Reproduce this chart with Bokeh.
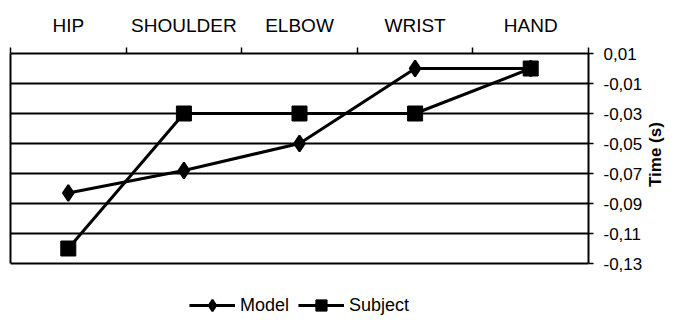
import math
from bokeh.plotting import figure
from bokeh.models import (FactorRange, Range1d, LinearAxis, FixedTicker,
                          CustomJSTickFormatter, Legend, LegendItem)
from bokeh.embed import file_html
from bokeh.resources import INLINE

# ---- data ----
categories = ["HIP", "SHOULDER", "ELBOW", "WRIST", "HAND"]
model = [-0.083, -0.068, -0.05, 0.0, 0.0]
subject = [-0.12, -0.03, -0.03, -0.03, 0.0]
y_ticks = [0.01, -0.01, -0.03, -0.05, -0.07, -0.09, -0.11, -0.13]
y_label = "Time (s)"

FONT = "Liberation Sans"
n = len(categories)
y_top, y_bot = max(y_ticks), min(y_ticks)

# the frame extends below the plot box to leave room for the legend
p = figure(width=677, height=320, output_backend="svg", toolbar_location=None,
           x_range=FactorRange(*categories), y_range=Range1d(-0.168, y_top),
           x_axis_location=None, y_axis_location=None, title=None)
p.min_border_left = 10
p.min_border_right = 86
p.min_border_top = 53
p.min_border_bottom = 0
p.background_fill_color = "white"
p.border_fill_color = "white"
p.outline_line_color = None

# grid
p.xgrid.visible = False
p.ygrid.ticker = FixedTicker(ticks=y_ticks)
p.ygrid.grid_line_color = "black"
p.ygrid.grid_line_width = 2

# top category axis (synthetic factor coordinates): labels at centers,
# ticks between categories
centers = [i + 0.5 for i in range(n)]
bounds = [float(i) for i in range(n + 1)]
top = LinearAxis(ticker=FixedTicker(ticks=centers, minor_ticks=bounds))
top.major_label_overrides = {c: lab for c, lab in zip(centers, categories)}
top.major_tick_line_color = None
top.major_tick_out = 6
top.major_tick_in = 0
top.minor_tick_out = 6
top.minor_tick_in = 0
top.minor_tick_line_color = "black"
top.minor_tick_line_width = 1.5
top.axis_line_color = "black"
top.axis_line_width = 2
top.major_label_standoff = 12
top.major_label_text_font = FONT
top.major_label_text_font_size = "19px"
top.major_label_text_color = "black"
p.add_layout(top, "above")

# left border of the plot box
left = LinearAxis(ticker=FixedTicker(ticks=[]), bounds=(y_bot, y_top))
left.major_tick_line_color = None
left.minor_tick_line_color = None
left.major_tick_out = 0
left.major_label_standoff = 0
left.major_label_text_font_size = "0px"
left.axis_line_color = "black"
left.axis_line_width = 2
p.add_layout(left, "left")

# right value axis
right = LinearAxis(ticker=FixedTicker(ticks=y_ticks), bounds=(y_bot, y_top),
                   formatter=CustomJSTickFormatter(code="return tick.toFixed(2).replace('.', ',');"))
right.major_tick_out = 5
right.major_tick_in = 0
right.major_tick_line_color = "black"
right.major_tick_line_width = 1.5
right.minor_tick_line_color = None
right.axis_line_color = "black"
right.axis_line_width = 2
right.major_label_standoff = 10
right.major_label_text_font = FONT
right.major_label_text_font_size = "17px"
right.major_label_text_color = "black"
right.axis_label = y_label
right.axis_label_standoff = 10
right.axis_label_text_font = FONT
right.axis_label_text_font_size = "17px"
right.axis_label_text_font_style = "bold"
right.axis_label_text_color = "black"
try:
    right.axis_label_orientation = math.pi / 2
except Exception:
    pass
p.add_layout(right, "right")

# series
lm = p.line(categories, model, line_color="black", line_width=3)
sm = p.scatter(categories, model, marker="diamond", size=16,
               fill_color="black", line_color="black", line_width=2)
ls = p.line(categories, subject, line_color="black", line_width=3)
ss = p.scatter(categories, subject, marker="square", size=15,
               fill_color="black", line_color="black", line_width=1)

legend = Legend(items=[LegendItem(label="Model", renderers=[lm, sm]),
                       LegendItem(label="Subject", renderers=[ls, ss])],
                orientation="horizontal", location="bottom_center",
                glyph_width=46, glyph_height=28, label_height=28,
                label_standoff=5, spacing=9, padding=0, margin=1,
                border_line_color=None, background_fill_alpha=0,
                label_text_font=FONT, label_text_font_size="18px",
                label_text_color="black")
p.add_layout(legend)

open("out.html", "w").write(file_html(p, INLINE))
